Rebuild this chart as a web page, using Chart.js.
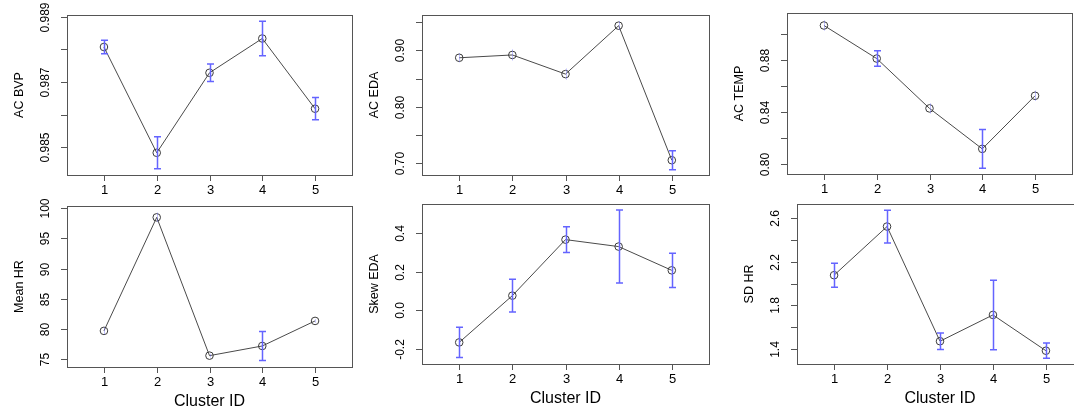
<!DOCTYPE html>
<html>
<head>
<meta charset="utf-8">
<script src="https://cdn.jsdelivr.net/npm/chart.js@4.4.1/dist/chart.umd.min.js"></script>
<style>
  html, body { margin: 0; padding: 0; background: #fff; overflow: hidden; }
  #wrap { position: relative; width: 1100px; height: 406px; }
  #wrap canvas { position: absolute; left: 0; top: 0; }
</style>
</head>
<body>
<div id="wrap">
  <canvas id="acBvp" width="1100" height="406"></canvas>
  <canvas id="acEda" width="1100" height="406"></canvas>
  <canvas id="acTemp" width="1100" height="406"></canvas>
  <canvas id="meanHr" width="1100" height="406"></canvas>
  <canvas id="skewEda" width="1100" height="406"></canvas>
  <canvas id="sdHr" width="1100" height="406"></canvas>
</div>
<script>
const clusters = [1, 2, 3, 4, 5];
const xTickLabels = ['1', '2', '3', '4', '5'];
const xTitle = 'Cluster ID';

const acBvpMean = [0.98807, 0.98483, 0.98728, 0.98833, 0.98618];
const acBvpErr = [0.00021, 0.00049, 0.00027, 0.00053, 0.00034];
const acBvpTicks = [0.985, 0.986, 0.987, 0.988, 0.989];
const acBvpTickLabels = ['0.985', '', '0.987', '', '0.989'];

const acEdaMean = [0.887, 0.892, 0.858, 0.944, 0.705];
const acEdaErr = [0.008, 0.010, 0.010, 0.008, 0.017];
const acEdaTicks = [0.70, 0.75, 0.80, 0.85, 0.90, 0.95];
const acEdaTickLabels = ['0.70', '', '0.80', '', '0.90', ''];

const acTempMean = [0.9066, 0.8812, 0.8429, 0.8118, 0.8526];
const acTempErr = [0.004, 0.006, 0.004, 0.0148, 0.004];
const acTempTicks = [0.80, 0.82, 0.84, 0.86, 0.88, 0.90];
const acTempTickLabels = ['0.80', '', '0.84', '', '0.88', ''];

const meanHrMean = [79.7, 98.5, 75.6, 77.2, 81.35];
const meanHrErr = [0.6, 0.8, 0.3, 2.4, 0.3];
const meanHrTicks = [75, 80, 85, 90, 95, 100];
const meanHrTickLabels = ['75', '80', '85', '90', '95', '100'];

const skewEdaMean = [-0.166, 0.076, 0.366, 0.330, 0.207];
const skewEdaErr = [0.078, 0.085, 0.067, 0.189, 0.089];
const skewEdaTicks = [-0.2, 0.0, 0.2, 0.4];
const skewEdaTickLabels = ['-0.2', '0.0', '0.2', '0.4'];

const sdHrMean = [2.076, 2.522, 1.471, 1.712, 1.384];
const sdHrErr = [0.11, 0.15, 0.075, 0.318, 0.07];
const sdHrTicks = [1.4, 1.6, 1.8, 2.0, 2.2, 2.4, 2.6];
const sdHrTickLabels = ['1.4', '', '1.8', '', '2.2', '', '2.6'];

const W = 1100, H = 406;
const FONT = '"Liberation Sans", Arial, sans-serif';

// R-style box, ticks, rotated labels and error bars
function rStyle(cfg) {
  return {
    id: 'rStyle_' + cfg.title,
    afterDatasetsDraw(chart) {
      const { ctx, scales: { x, y } } = chart;
      ctx.save();
      cfg.means.forEach((m, i) => {
        const px = Math.round(x.getPixelForValue(clusters[i])) + 0.5;
        const top = y.getPixelForValue(m + cfg.errs[i]);
        const bot = y.getPixelForValue(m - cfg.errs[i]);
        const faint = (bot - top) / 2 < 6;
        ctx.strokeStyle = faint ? 'rgba(110,110,255,0.4)' : '#6464ff';
        ctx.lineWidth = faint ? 1 : 1.5;
        ctx.beginPath();
        ctx.moveTo(px, top);
        ctx.lineTo(px, bot);
        if (!faint) {
          ctx.moveTo(px - 3.5, top);
          ctx.lineTo(px + 3.5, top);
          ctx.moveTo(px - 3.5, bot);
          ctx.lineTo(px + 3.5, bot);
        }
        ctx.stroke();
      });
      ctx.restore();
    },
    afterDraw(chart) {
      const { ctx, chartArea: a, scales: { x, y } } = chart;
      ctx.save();
      ctx.strokeStyle = '#555';
      ctx.lineWidth = 1;
      ctx.strokeRect(a.left + 0.5, a.top + 0.5, a.right - a.left, a.bottom - a.top);
      ctx.fillStyle = '#000';

      ctx.font = '13px ' + FONT;
      ctx.textAlign = 'center';
      ctx.textBaseline = 'middle';
      clusters.forEach((c, i) => {
        const px = Math.round(x.getPixelForValue(c)) + 0.5;
        ctx.beginPath();
        ctx.moveTo(px, a.bottom);
        ctx.lineTo(px, a.bottom + 6);
        ctx.stroke();
        ctx.fillText(xTickLabels[i], px, a.bottom + 15);
      });

      ctx.font = '12px ' + FONT;
      cfg.ticks.forEach((v, i) => {
        const py = Math.round(y.getPixelForValue(v)) + 0.5;
        ctx.beginPath();
        ctx.moveTo(a.left - 6, py);
        ctx.lineTo(a.left, py);
        ctx.stroke();
        if (cfg.tickLabels[i]) {
          ctx.save();
          ctx.translate(a.left - 21, py);
          ctx.rotate(-Math.PI / 2);
          ctx.fillText(cfg.tickLabels[i], 0, 0);
          ctx.restore();
        }
      });

      ctx.save();
      ctx.font = '12.5px ' + FONT;
      ctx.translate(a.left - 47, (a.top + a.bottom) / 2);
      ctx.rotate(-Math.PI / 2);
      ctx.fillText(cfg.title, 0, 0);
      ctx.restore();

      if (cfg.showXTitle) {
        ctx.font = '16px ' + FONT;
        ctx.fillText(xTitle, (a.left + a.right) / 2, a.bottom + 35);
      }
      ctx.restore();
    }
  };
}

function makePanel(id, box, yMin, yMax, means, errs, ticks, tickLabels, title, showXTitle) {
  const cfg = { means, errs, ticks, tickLabels, title, showXTitle };
  return new Chart(document.getElementById(id).getContext('2d'), {
    type: 'line',
    data: {
      datasets: [{
        data: clusters.map((c, i) => ({ x: c, y: means[i] })),
        borderColor: '#4a4a4a',
        borderWidth: 1,
        tension: 0,
        pointRadius: 3.8,
        pointBorderWidth: 1,
        pointBorderColor: '#3a3a3a',
        pointBackgroundColor: 'rgba(0,0,0,0)',
      }],
    },
    options: {
      responsive: false,
      animation: false,
      layout: { padding: { left: box.l, top: box.t, right: W - box.r, bottom: H - box.b } },
      scales: {
        x: { type: 'linear', min: 0.3, max: 5.7, display: false },
        y: { type: 'linear', min: yMin, max: yMax, display: false },
      },
      plugins: { legend: { display: false }, tooltip: { enabled: false } },
    },
    plugins: [rStyle(cfg)],
  });
}

makePanel('acBvp', { l: 67, t: 15, r: 352, b: 175 }, 0.98415, 0.98905,
  acBvpMean, acBvpErr, acBvpTicks, acBvpTickLabels, 'AC BVP', false);
makePanel('acEda', { l: 422, t: 15, r: 709, b: 175 }, 0.6787, 0.963,
  acEdaMean, acEdaErr, acEdaTicks, acEdaTickLabels, 'AC EDA', false);
makePanel('acTemp', { l: 787, t: 13, r: 1072, b: 174 }, 0.7925, 0.9162,
  acTempMean, acTempErr, acTempTicks, acTempTickLabels, 'AC TEMP', false);
makePanel('meanHr', { l: 67, t: 206, r: 352, b: 367 }, 73.72, 100.38,
  meanHrMean, meanHrErr, meanHrTicks, meanHrTickLabels, 'Mean HR', true);
makePanel('skewEda', { l: 422, t: 204, r: 709, b: 364 }, -0.2778, 0.5504,
  skewEdaMean, skewEdaErr, skewEdaTicks, skewEdaTickLabels, 'Skew EDA', true);
makePanel('sdHr', { l: 797, t: 204, r: 1083, b: 364 }, 1.2623, 2.7286,
  sdHrMean, sdHrErr, sdHrTicks, sdHrTickLabels, 'SD HR', true);
</script>
</body>
</html>
